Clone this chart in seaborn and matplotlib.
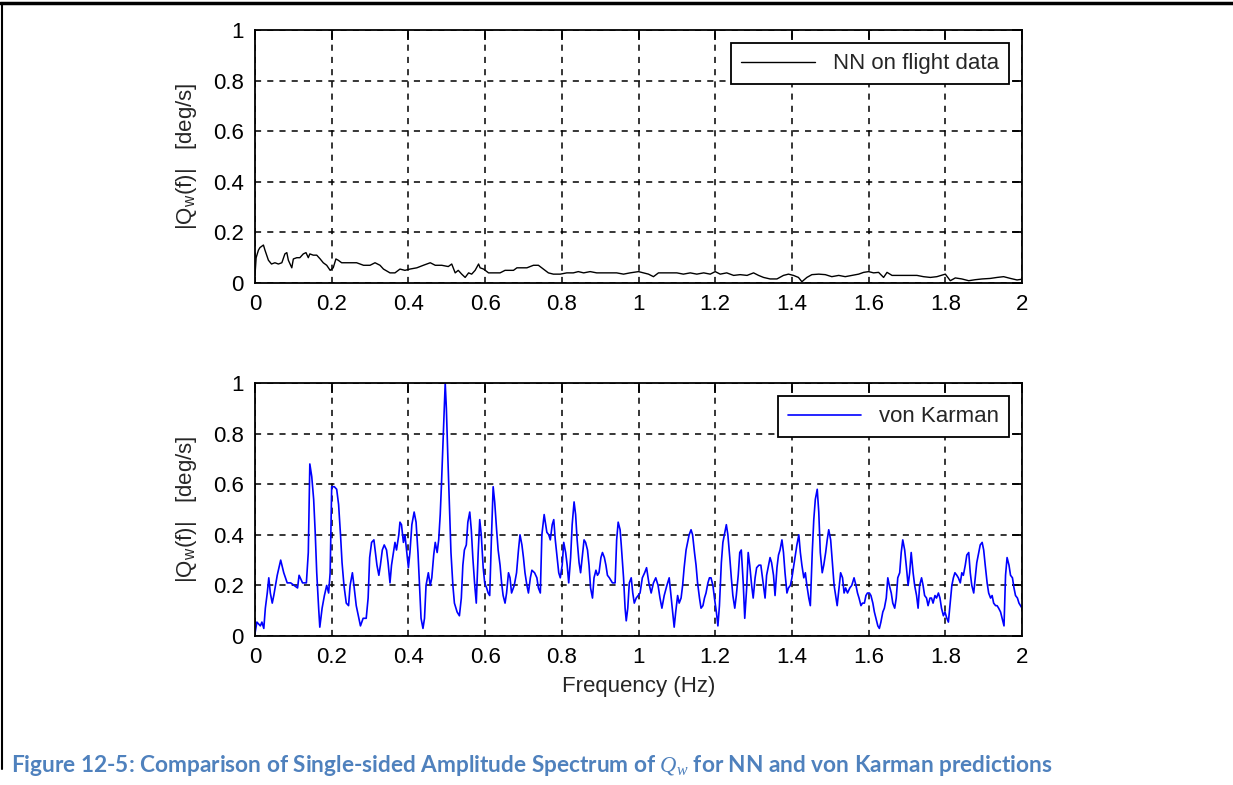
import matplotlib
matplotlib.use("Agg")
import matplotlib.pyplot as plt
import seaborn as sns
import pandas as pd
from matplotlib.ticker import FuncFormatter
from matplotlib.lines import Line2D

# ---------------- data ----------------
nn_freq = [0.000, 0.003, 0.009, 0.013, 0.022, 0.026, 0.035, 0.043, 0.052, 0.061, 0.070, 0.078,
           0.083, 0.087, 0.096, 0.100, 0.109, 0.117, 0.126, 0.133, 0.139, 0.143, 0.152, 0.161,
           0.170, 0.178, 0.187, 0.196, 0.204, 0.211, 0.217, 0.226, 0.239, 0.248, 0.265, 0.283,
           0.300, 0.313, 0.326, 0.335, 0.352, 0.365, 0.378, 0.391, 0.404, 0.422, 0.439, 0.457,
           0.470, 0.487, 0.504, 0.513, 0.522, 0.530, 0.539, 0.548, 0.557, 0.565, 0.574, 0.583,
           0.587, 0.596, 0.609, 0.622, 0.639, 0.652, 0.665, 0.674, 0.683, 0.696, 0.709, 0.726,
           0.739, 0.752, 0.765, 0.778, 0.796, 0.813, 0.830, 0.843, 0.857, 0.874, 0.891, 0.909,
           0.926, 0.943, 0.961, 0.978, 1.000, 1.013, 1.026, 1.039, 1.052, 1.065, 1.083, 1.100,
           1.117, 1.135, 1.152, 1.170, 1.187, 1.200, 1.213, 1.230, 1.248, 1.265, 1.283, 1.300,
           1.313, 1.326, 1.343, 1.361, 1.378, 1.391, 1.404, 1.417, 1.426, 1.439, 1.452, 1.470,
           1.487, 1.504, 1.522, 1.539, 1.557, 1.574, 1.587, 1.600, 1.613, 1.626, 1.639, 1.648,
           1.661, 1.674, 1.700, 1.726, 1.743, 1.761, 1.778, 1.800, 1.813, 1.826, 1.843, 1.861,
           1.878, 1.896, 1.917, 1.935, 1.952, 1.970, 1.987, 2.000]
nn_amp = [0.03, 0.10, 0.13, 0.14, 0.15, 0.13, 0.09, 0.075, 0.08, 0.075, 0.08, 0.115,
          0.12, 0.09, 0.06, 0.095, 0.10, 0.10, 0.115, 0.12, 0.10, 0.115, 0.11, 0.11,
          0.095, 0.08, 0.07, 0.05, 0.06, 0.095, 0.09, 0.08, 0.08, 0.08, 0.08, 0.07,
          0.07, 0.08, 0.07, 0.055, 0.04, 0.04, 0.055, 0.05, 0.055, 0.06, 0.07, 0.08,
          0.07, 0.07, 0.065, 0.075, 0.04, 0.05, 0.035, 0.022, 0.04, 0.035, 0.05, 0.075,
          0.06, 0.055, 0.04, 0.04, 0.04, 0.05, 0.05, 0.05, 0.06, 0.06, 0.06, 0.07,
          0.07, 0.055, 0.04, 0.035, 0.035, 0.04, 0.04, 0.045, 0.04, 0.045, 0.04, 0.04,
          0.04, 0.04, 0.035, 0.04, 0.045, 0.04, 0.035, 0.025, 0.04, 0.04, 0.04, 0.04,
          0.035, 0.04, 0.035, 0.04, 0.035, 0.045, 0.035, 0.04, 0.03, 0.033, 0.03, 0.04,
          0.03, 0.022, 0.016, 0.016, 0.03, 0.035, 0.03, 0.022, 0.005, 0.022, 0.033, 0.035,
          0.033, 0.025, 0.03, 0.025, 0.03, 0.035, 0.042, 0.045, 0.04, 0.042, 0.022, 0.042,
          0.03, 0.03, 0.03, 0.03, 0.025, 0.022, 0.025, 0.035, 0.009, 0.02, 0.016, 0.009,
          0.013, 0.016, 0.018, 0.022, 0.025, 0.018, 0.012, 0.015]

vk_freq = [0.000, 0.005, 0.014, 0.018, 0.023, 0.027, 0.032, 0.036, 0.040, 0.045, 0.049, 0.058,
           0.067, 0.075, 0.084, 0.093, 0.102, 0.111, 0.115, 0.124, 0.134, 0.139, 0.143, 0.148,
           0.153, 0.157, 0.161, 0.166, 0.169, 0.175, 0.181, 0.187, 0.192, 0.196, 0.200, 0.207,
           0.213, 0.218, 0.223, 0.227, 0.232, 0.238, 0.244, 0.248, 0.254, 0.258, 0.264, 0.271,
           0.275, 0.282, 0.290, 0.295, 0.299, 0.304, 0.310, 0.314, 0.318, 0.323, 0.327, 0.332,
           0.337, 0.343, 0.347, 0.352, 0.356, 0.361, 0.365, 0.369, 0.375, 0.378, 0.382, 0.387,
           0.391, 0.396, 0.400, 0.404, 0.409, 0.415, 0.420, 0.425, 0.429, 0.433, 0.438, 0.442,
           0.446, 0.452, 0.457, 0.461, 0.466, 0.470, 0.475, 0.479, 0.483, 0.486, 0.490, 0.496,
           0.499, 0.503, 0.507, 0.511, 0.516, 0.520, 0.527, 0.533, 0.538, 0.542, 0.546, 0.551,
           0.555, 0.560, 0.564, 0.568, 0.573, 0.577, 0.582, 0.586, 0.590, 0.595, 0.599, 0.604,
           0.608, 0.612, 0.617, 0.621, 0.625, 0.630, 0.634, 0.639, 0.643, 0.647, 0.652, 0.656,
           0.661, 0.665, 0.669, 0.676, 0.682, 0.687, 0.691, 0.696, 0.700, 0.704, 0.709, 0.713,
           0.718, 0.722, 0.729, 0.735, 0.739, 0.744, 0.748, 0.754, 0.757, 0.761, 0.766, 0.770,
           0.775, 0.779, 0.783, 0.788, 0.792, 0.796, 0.801, 0.805, 0.810, 0.814, 0.818, 0.823,
           0.827, 0.832, 0.836, 0.840, 0.845, 0.849, 0.854, 0.858, 0.862, 0.867, 0.871, 0.875,
           0.880, 0.884, 0.889, 0.893, 0.897, 0.902, 0.906, 0.911, 0.915, 0.919, 0.924, 0.932,
           0.939, 0.943, 0.947, 0.952, 0.955, 0.961, 0.965, 0.968, 0.972, 0.976, 0.981, 0.985,
           0.989, 0.994, 1.004, 1.010, 1.016, 1.021, 1.027, 1.033, 1.039, 1.045, 1.051, 1.056,
           1.061, 1.067, 1.074, 1.080, 1.084, 1.089, 1.093, 1.097, 1.102, 1.106, 1.111, 1.115,
           1.119, 1.124, 1.128, 1.132, 1.137, 1.141, 1.146, 1.150, 1.154, 1.159, 1.163, 1.168,
           1.172, 1.176, 1.181, 1.185, 1.189, 1.194, 1.198, 1.203, 1.207, 1.211, 1.216, 1.220,
           1.225, 1.229, 1.233, 1.238, 1.242, 1.246, 1.251, 1.255, 1.260, 1.264, 1.268, 1.273,
           1.277, 1.282, 1.286, 1.290, 1.295, 1.299, 1.304, 1.308, 1.314, 1.319, 1.325, 1.330,
           1.334, 1.339, 1.343, 1.347, 1.352, 1.356, 1.361, 1.365, 1.369, 1.374, 1.378, 1.382,
           1.387, 1.391, 1.396, 1.400, 1.404, 1.409, 1.413, 1.418, 1.422, 1.426, 1.431, 1.435,
           1.439, 1.444, 1.448, 1.453, 1.457, 1.461, 1.466, 1.470, 1.474, 1.479, 1.483, 1.488,
           1.492, 1.496, 1.501, 1.505, 1.510, 1.515, 1.518, 1.523, 1.527, 1.532, 1.536, 1.540,
           1.545, 1.551, 1.556, 1.562, 1.567, 1.571, 1.575, 1.580, 1.584, 1.589, 1.593, 1.597,
           1.602, 1.606, 1.611, 1.615, 1.619, 1.624, 1.628, 1.632, 1.637, 1.641, 1.646, 1.650,
           1.654, 1.659, 1.663, 1.668, 1.672, 1.676, 1.681, 1.685, 1.689, 1.694, 1.698, 1.703,
           1.707, 1.711, 1.716, 1.720, 1.725, 1.729, 1.733, 1.738, 1.742, 1.746, 1.751, 1.755,
           1.760, 1.764, 1.768, 1.773, 1.777, 1.782, 1.786, 1.790, 1.795, 1.799, 1.804, 1.808,
           1.812, 1.817, 1.821, 1.825, 1.830, 1.834, 1.839, 1.843, 1.847, 1.852, 1.856, 1.861,
           1.865, 1.869, 1.874, 1.878, 1.882, 1.887, 1.891, 1.896, 1.900, 1.904, 1.909, 1.913,
           1.918, 1.922, 1.926, 1.931, 1.935, 1.939, 1.944, 1.948, 1.953, 1.957, 1.961, 1.966,
           1.970, 1.975, 1.979, 1.983, 1.988, 1.992, 1.996, 2.000]
vk_amp = [0.01, 0.055, 0.04, 0.055, 0.03, 0.11, 0.17, 0.23, 0.17, 0.13, 0.16, 0.24,
          0.30, 0.25, 0.21, 0.21, 0.20, 0.19, 0.24, 0.21, 0.21, 0.33, 0.68, 0.63,
          0.54, 0.41, 0.25, 0.11, 0.035, 0.11, 0.16, 0.20, 0.17, 0.25, 0.59, 0.59,
          0.58, 0.52, 0.40, 0.29, 0.20, 0.13, 0.12, 0.20, 0.25, 0.20, 0.12, 0.07,
          0.04, 0.07, 0.07, 0.15, 0.31, 0.37, 0.38, 0.33, 0.28, 0.24, 0.28, 0.34,
          0.36, 0.34, 0.29, 0.21, 0.28, 0.33, 0.37, 0.34, 0.40, 0.45, 0.44, 0.37,
          0.40, 0.33, 0.27, 0.33, 0.44, 0.49, 0.45, 0.33, 0.20, 0.07, 0.03, 0.07,
          0.20, 0.25, 0.20, 0.23, 0.32, 0.37, 0.33, 0.38, 0.48, 0.59, 0.75, 1.00,
          0.90, 0.70, 0.52, 0.33, 0.20, 0.13, 0.095, 0.08, 0.15, 0.28, 0.34, 0.36,
          0.45, 0.49, 0.42, 0.31, 0.20, 0.13, 0.33, 0.46, 0.40, 0.27, 0.21, 0.19,
          0.17, 0.16, 0.41, 0.59, 0.53, 0.42, 0.34, 0.28, 0.21, 0.16, 0.13, 0.17,
          0.25, 0.23, 0.17, 0.20, 0.25, 0.34, 0.40, 0.36, 0.31, 0.25, 0.20, 0.17,
          0.23, 0.26, 0.25, 0.23, 0.19, 0.17, 0.40, 0.48, 0.45, 0.41, 0.40, 0.38,
          0.44, 0.46, 0.38, 0.31, 0.25, 0.23, 0.28, 0.37, 0.33, 0.28, 0.21, 0.31,
          0.44, 0.53, 0.48, 0.38, 0.29, 0.25, 0.32, 0.38, 0.37, 0.34, 0.28, 0.19,
          0.15, 0.23, 0.26, 0.24, 0.25, 0.31, 0.33, 0.31, 0.28, 0.24, 0.23, 0.21,
          0.21, 0.38, 0.45, 0.42, 0.36, 0.23, 0.11, 0.06, 0.11, 0.21, 0.23, 0.17,
          0.13, 0.15, 0.17, 0.23, 0.25, 0.27, 0.21, 0.17, 0.21, 0.23, 0.20, 0.15,
          0.11, 0.16, 0.20, 0.23, 0.17, 0.095, 0.035, 0.095, 0.16, 0.13, 0.15, 0.20,
          0.27, 0.34, 0.37, 0.40, 0.42, 0.40, 0.33, 0.28, 0.21, 0.15, 0.11, 0.12,
          0.15, 0.17, 0.21, 0.23, 0.23, 0.20, 0.15, 0.095, 0.04, 0.12, 0.29, 0.37,
          0.41, 0.44, 0.40, 0.31, 0.23, 0.16, 0.11, 0.16, 0.24, 0.33, 0.34, 0.21,
          0.07, 0.19, 0.33, 0.28, 0.20, 0.15, 0.23, 0.27, 0.28, 0.28, 0.21, 0.15,
          0.24, 0.28, 0.31, 0.29, 0.24, 0.16, 0.27, 0.32, 0.34, 0.38, 0.33, 0.25,
          0.17, 0.19, 0.20, 0.23, 0.27, 0.32, 0.36, 0.40, 0.33, 0.28, 0.23, 0.25,
          0.20, 0.15, 0.12, 0.33, 0.46, 0.54, 0.58, 0.49, 0.33, 0.25, 0.28, 0.33,
          0.38, 0.42, 0.38, 0.30, 0.20, 0.15, 0.12, 0.19, 0.25, 0.23, 0.17, 0.19,
          0.17, 0.19, 0.20, 0.23, 0.20, 0.17, 0.15, 0.12, 0.13, 0.13, 0.16, 0.17,
          0.17, 0.16, 0.13, 0.095, 0.07, 0.04, 0.03, 0.055, 0.095, 0.11, 0.15, 0.23,
          0.20, 0.17, 0.13, 0.11, 0.15, 0.23, 0.25, 0.33, 0.38, 0.34, 0.28, 0.20,
          0.25, 0.33, 0.25, 0.20, 0.16, 0.11, 0.20, 0.23, 0.20, 0.16, 0.15, 0.12,
          0.15, 0.15, 0.13, 0.16, 0.15, 0.17, 0.15, 0.11, 0.08, 0.095, 0.07, 0.055,
          0.12, 0.20, 0.23, 0.25, 0.24, 0.23, 0.21, 0.25, 0.24, 0.28, 0.32, 0.33,
          0.25, 0.20, 0.17, 0.23, 0.29, 0.33, 0.36, 0.37, 0.34, 0.28, 0.21, 0.17,
          0.15, 0.16, 0.13, 0.12, 0.12, 0.11, 0.095, 0.07, 0.04, 0.24, 0.31, 0.28,
          0.24, 0.23, 0.19, 0.16, 0.15, 0.13, 0.12, 0.11]

x_ticks = [0, 0.2, 0.4, 0.6, 0.8, 1.0, 1.2, 1.4, 1.6, 1.8, 2.0]
y_ticks = [0, 0.2, 0.4, 0.6, 0.8, 1.0]
nn_label = "NN on flight data"
vk_label = "von Karman"
y_label = r"|Q$_\mathrm{w}$(f)|   [deg/s]"
x_label = "Frequency (Hz)"
caption = r"Figure 12-5: Comparison of Single-sided Amplitude Spectrum of $Q_w$ for NN and von Karman predictions"

# ---------------- plotting ----------------
sns.set_style("white")
plt.rcParams["font.family"] = ["Liberation Sans", "DejaVu Sans"]
plt.rcParams["mathtext.fontset"] = "custom"
plt.rcParams["mathtext.rm"] = "Liberation Sans"
plt.rcParams["mathtext.it"] = "Liberation Serif:italic"

fig = plt.figure(figsize=(12.33, 7.85), dpi=100)
ax1 = fig.add_axes([0.2068, 0.6395, 0.6221, 0.3223])
ax2 = fig.add_axes([0.2068, 0.1898, 0.6221, 0.3223])

df_nn = pd.DataFrame({"f": nn_freq, "a": nn_amp})
df_vk = pd.DataFrame({"f": vk_freq, "a": vk_amp})

sns.lineplot(data=df_nn, x="f", y="a", ax=ax1, color="black", linewidth=1.0,
             estimator=None, sort=False, label=nn_label)
sns.lineplot(data=df_vk, x="f", y="a", ax=ax2, color="#0000FF", linewidth=1.2,
             estimator=None, sort=False, label=vk_label)

fmt = FuncFormatter(lambda v, p: f"{v:g}")
for ax in (ax1, ax2):
    ax.set_xlim(0, 2)
    ax.set_ylim(0, 1)
    ax.set_xticks(x_ticks)
    ax.set_yticks(y_ticks)
    ax.xaxis.set_major_formatter(fmt)
    ax.yaxis.set_major_formatter(fmt)
    ax.grid(True, color="black", linestyle=(0, (4, 4)), linewidth=1.1)
    ax.set_axisbelow(True)
    for s in ax.spines.values():
        s.set_visible(True)
        s.set_color("black")
        s.set_linewidth(1.3)
    ax.tick_params(direction="in", length=7, width=1.3, top=True, right=True,
                   labelsize=16, pad=8, colors="black")
    ax.set_ylabel(y_label, fontsize=16, labelpad=10)
    ax.set_xlabel("")
    leg = ax.legend(loc="upper right", fontsize=16, frameon=True, fancybox=False,
                    edgecolor="black", borderpad=0.45, handlelength=3.3,
                    borderaxespad=0.6, framealpha=1)
    leg.get_frame().set_linewidth(1.3)

ax2.set_xlabel(x_label, fontsize=16, labelpad=6)

# page frame lines (top and left)
fig.add_artist(Line2D([0.0, 1.0], [0.996, 0.996], color="black", linewidth=2.5,
                      transform=fig.transFigure))
fig.add_artist(Line2D([0.002, 0.002], [0.02, 0.996], color="black", linewidth=1.5,
                      transform=fig.transFigure))

fig.text(0.009, 0.025, caption, fontsize=16.3, color="#4F81BD", fontweight="bold",
         family=["Lato", "DejaVu Sans"], ha="left", va="center")

fig.savefig("out.png", dpi=100)
